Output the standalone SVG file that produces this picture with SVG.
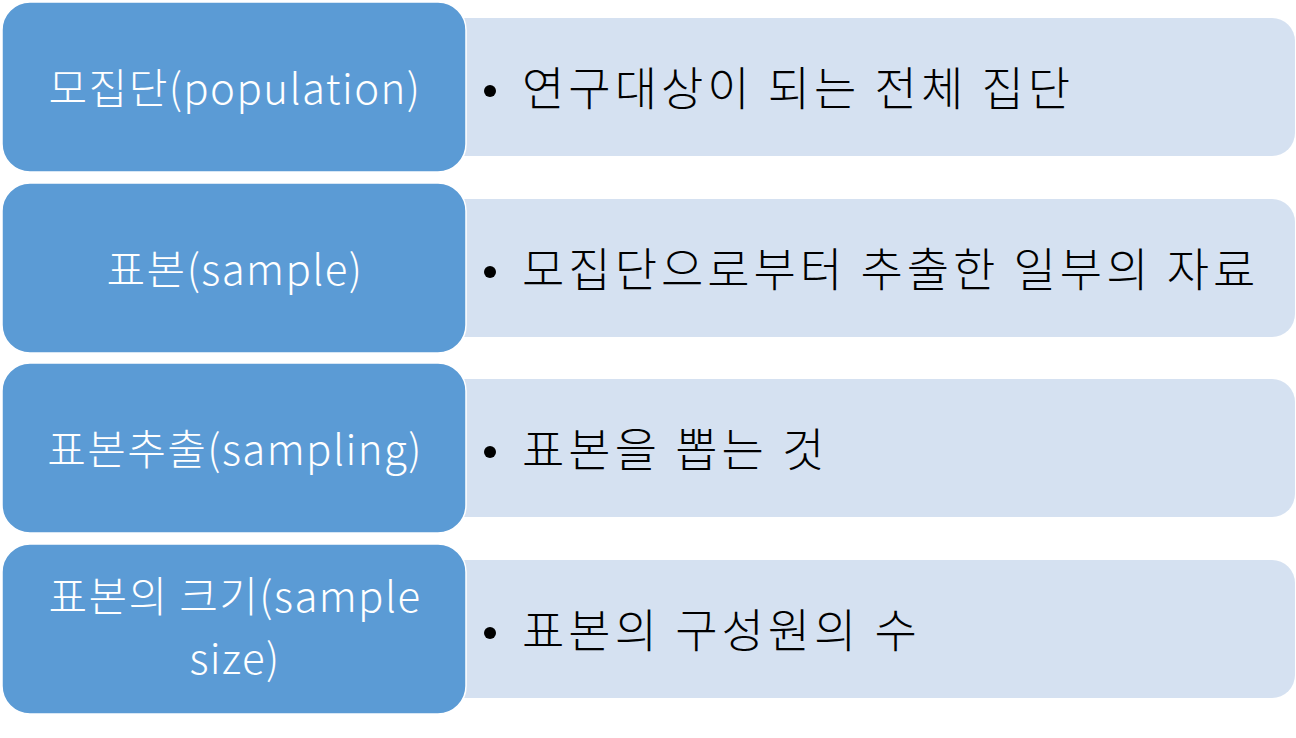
<svg xmlns="http://www.w3.org/2000/svg" width="1296" height="738" viewBox="0 0 1296 738">
<style>
.desc{fill:#D5E1F1;}
.term{fill:#5B9BD5;stroke:#FFFFFF;stroke-width:1.5;}
.lt{font-family:"Noto Sans CJK KR","Noto Sans",sans-serif;font-size:42px;font-weight:300;letter-spacing:1.4px;fill:#FFFFFF;text-anchor:middle;}
.rt{font-family:"Noto Sans CJK KR","Noto Sans",sans-serif;font-size:46px;font-weight:300;letter-spacing:4px;fill:#000000;}
.bul{fill:#000000;}
</style>
<rect x="0" y="0" width="1296" height="738" fill="#FFFFFF"/>
<g id="row1">
<path class="desc" d="M440 18 H1272 A23 23 0 0 1 1295 41 V133 A23 23 0 0 1 1272 156 H440 Z"/>
<rect class="term" x="2" y="2" width="464" height="170" rx="28" ry="28"/>
<text class="lt" x="235" y="104">모집단(population)</text>
<circle class="bul" cx="490" cy="91" r="6"/>
<text class="rt" x="522" y="105">연구대상이 되는 전체 집단</text>
</g>
<g id="row2">
<path class="desc" d="M440 199 H1272 A23 23 0 0 1 1295 222 V314 A23 23 0 0 1 1272 337 H440 Z"/>
<rect class="term" x="2" y="183" width="464" height="170" rx="28" ry="28"/>
<text class="lt" x="235" y="285">표본(sample)</text>
<circle class="bul" cx="490" cy="272" r="6"/>
<text class="rt" x="522" y="286">모집단으로부터 추출한 일부의 자료</text>
</g>
<g id="row3">
<path class="desc" d="M440 379 H1272 A23 23 0 0 1 1295 402 V494 A23 23 0 0 1 1272 517 H440 Z"/>
<rect class="term" x="2" y="363" width="464" height="170" rx="28" ry="28"/>
<text class="lt" x="235" y="465">표본추출(sampling)</text>
<circle class="bul" cx="490" cy="452" r="6"/>
<text class="rt" x="522" y="466">표본을 뽑는 것</text>
</g>
<g id="row4">
<path class="desc" d="M440 560 H1272 A23 23 0 0 1 1295 583 V675 A23 23 0 0 1 1272 698 H440 Z"/>
<rect class="term" x="2" y="544" width="464" height="170" rx="28" ry="28"/>
<text class="lt" x="235" y="612">표본의 크기(sample</text>
<text class="lt" x="235" y="674">size)</text>
<circle class="bul" cx="490" cy="633" r="6"/>
<text class="rt" x="522" y="647">표본의 구성원의 수</text>
</g>
<g id="connectors"></g>
</svg>
